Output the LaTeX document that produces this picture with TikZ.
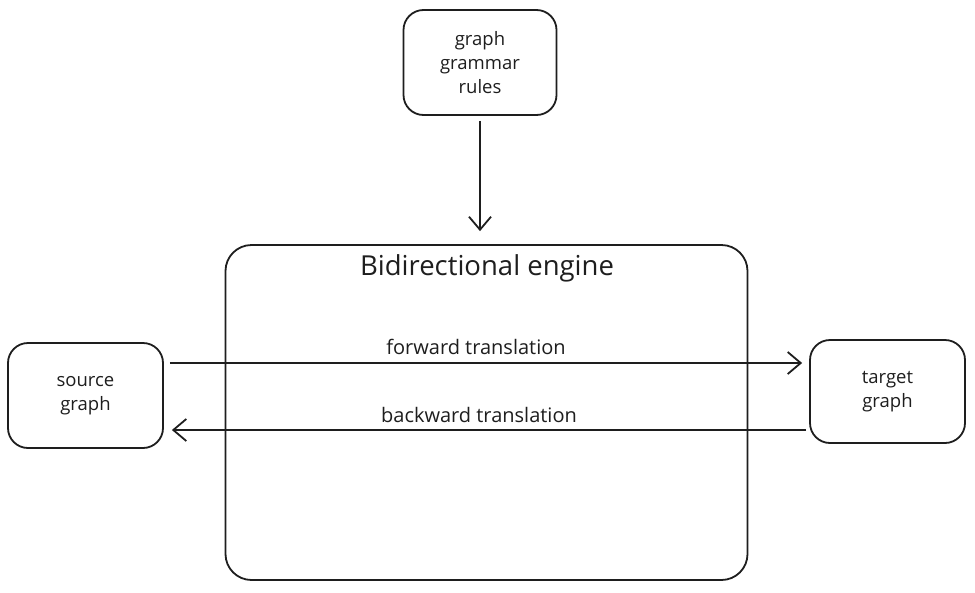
\documentclass[tikz,border=0pt]{standalone}
\usepackage{fontspec}
\setmainfont{Open Sans}
\usetikzlibrary{arrows.meta,calc}
\definecolor{ink}{HTML}{1E1E1E}
\begin{document}
\begin{tikzpicture}[x=1pt,y=-1pt,
  box/.style={draw=ink,line width=1.8pt,rounded corners=20pt,inner sep=0pt,align=center,font=\fontsize{18.5}{24}\selectfont,text=ink},
  arr/.style={draw=ink,line width=1.8pt,-{Straight Barb[length=13pt,width=22pt,line width=1.8pt]}},
  lbl/.style={font=\fontsize{20}{22}\selectfont,text=ink,inner sep=0pt}]
\useasboundingbox[fill=white] (0,0) rectangle (975,592);
\node[box,minimum width=153pt,minimum height=105pt] (rules) at (480,62.5) {graph\\grammar\\rules};
\node[box,rounded corners=26pt,minimum width=522pt,minimum height=335pt] (engine) at (486.5,412.5) {};
\node[box,minimum width=155pt,minimum height=105pt] (source) at (85.5,395.5) {source\\graph};
\node[box,minimum width=155pt,minimum height=103pt] (target) at (887.5,391.5) {target\\graph};
\node[lbl,font=\fontsize{27.5}{30}\selectfont] (title) at (487,268) {Bidirectional engine};
\coordinate (fy) at (0,363);
\coordinate (by) at (0,430);
\draw[arr] ([xshift=6pt]source.east |- fy) -- ([xshift=-7pt]target.west |- fy);
\draw[arr] ([xshift=-3pt]target.west |- by) -- ([xshift=8pt]source.east |- by);
\draw[arr] ([yshift=-5pt]rules.south) -- ([yshift=13pt]rules.south |- engine.north);
\node[lbl] (fwd) at (476,347) {forward translation};
\node[lbl] (bwd) at (479,415) {backward translation};
\end{tikzpicture}
\end{document}
